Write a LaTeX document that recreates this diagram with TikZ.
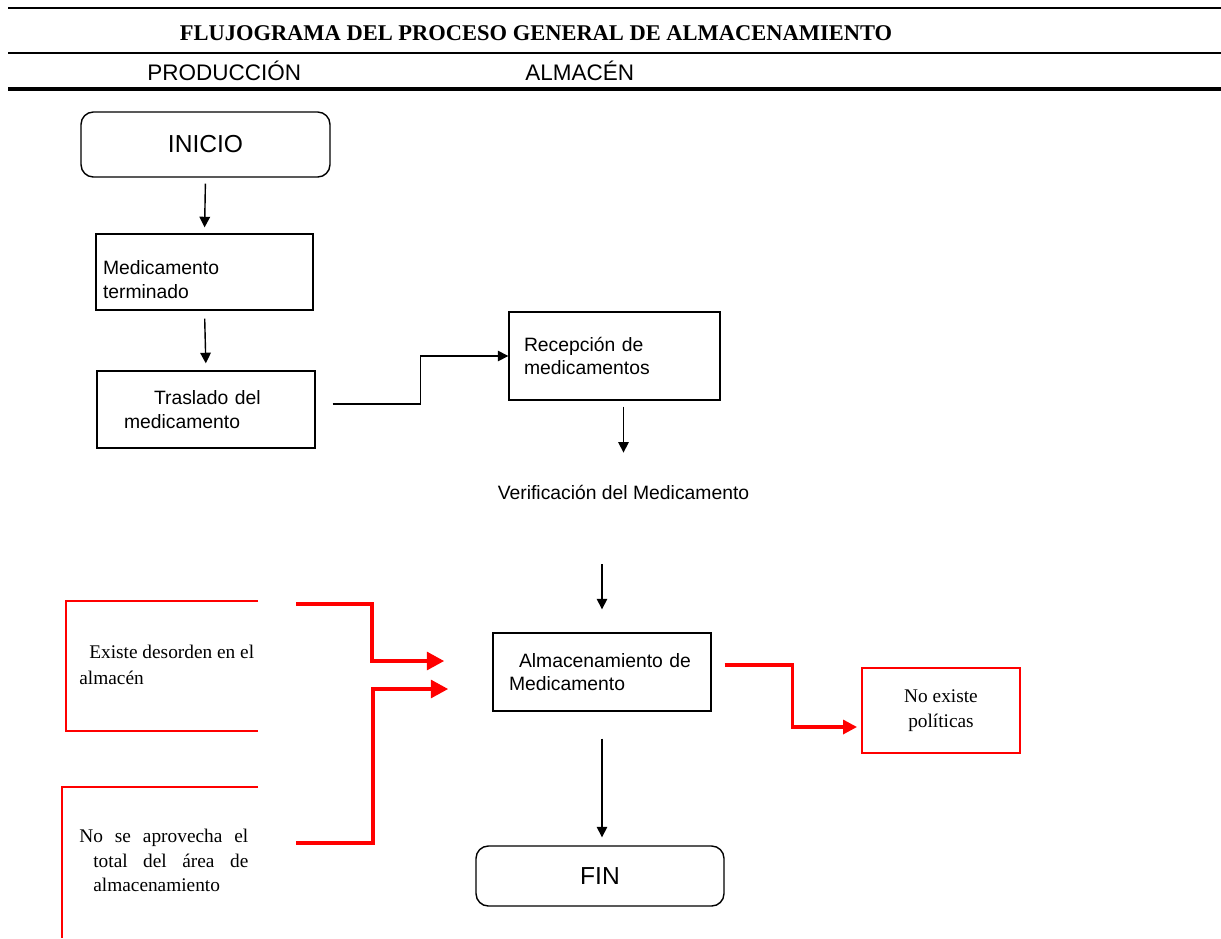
\documentclass[tikz,border=0pt]{standalone}
\usepackage{fontspec}
\setmainfont{Liberation Serif}
\setsansfont{Liberation Sans}
\usetikzlibrary{arrows.meta,calc}
\tolerance=10000
\hyphenpenalty=10000

\begin{document}
\begin{tikzpicture}[x=0.02cm, y=-0.02cm,
  proc/.style={draw, line width=0.8pt, font=\sffamily\fontsize{11}{13.5}\selectfont, align=left},
  term/.style={draw, line width=0.8pt, rounded corners=7pt, font=\sffamily\fontsize{14}{16}\selectfont},
  flow/.style={line width=0.8pt, -{Triangle[length=6pt,width=6pt]}},
  redflow/.style={red, line width=2.6pt, -{Triangle[length=10pt,width=10pt]}},
  redline/.style={red, line width=1.1pt},
  obs/.style={font=\fontsize{11}{14.5}\selectfont, inner sep=0pt, anchor=north west}]
\useasboundingbox (0,0) rectangle (1221,938);
\draw[line width=1.3pt] (8,8) -- (1221,8);
\draw[line width=1.3pt] (8,53) -- (1221,53);
\draw[line width=1.9pt] (8,89) -- (1221,89);
\node[font=\bfseries\fontsize{12.8}{15}\selectfont, anchor=base, inner sep=0pt] (titulo) at (536,40) {FLUJOGRAMA DEL PROCESO GENERAL DE ALMACENAMIENTO};
\node[font=\sffamily\fontsize{12.8}{14}\selectfont, anchor=base west, inner sep=0pt] (produccion) at (147,80) {PRODUCCIÓN};
\node[font=\sffamily\fontsize{12.8}{14}\selectfont, anchor=base west, inner sep=0pt] (almacenhead) at (525,80) {ALMACÉN};
\node[term, minimum width=4.98cm, minimum height=1.3cm] (inicio) at (205.5,144.5) {INICIO};
\node[proc, text width=4.06cm, inner xsep=0.14cm, minimum height=1.52cm] (medterm) at (204.5,272) {\rule{0pt}{17pt}Medicamento\\terminado};
\node[proc, text width=3.28cm, inner xsep=0.54cm, minimum height=1.54cm] (traslado) at (206,409.5) {\hspace*{0.6cm}Traslado del\\medicamento};
\node[proc, text width=3.62cm, inner xsep=0.3cm, minimum height=1.76cm] (recepcion) at (614.5,356) {Recepción de\\medicamentos};
\node[font=\sffamily\fontsize{11}{13.5}\selectfont] (verif) at (623.5,492) {Verificación del Medicamento};
\node[proc, text width=3.72cm, inner xsep=0.32cm, minimum height=1.56cm] (almacen) at (602,672) {\hspace*{0.2cm}Almacenamiento de\\Medicamento};
\node[term, minimum width=4.96cm, minimum height=1.2cm] (fin) at (600,876) {FIN};
\node[draw=red, line width=1.1pt, font=\fontsize{11}{14}\selectfont, align=center, minimum width=3.16cm, minimum height=1.7cm] (politicas) at (941,710.5) {No existe\\políticas};
\draw[redline] (258,601) -| (66,731) -- (258,731);
\draw[redline] (258,787) -| (62,938);
\node[obs, align=left] (desorden) at (79,645) {\hspace*{0.2cm}Existe desorden en el\\almacén};
\node[obs, text width=3.1cm, align=justify, font=\fontsize{11}{13.9}\selectfont] (area) at (93,829) {\hspace*{-0.28cm}No se aprovecha el total del área de almacenamiento};
\coordinate (causa1) at (296,604);
\coordinate (causa2) at (296,843);
\draw[flow, shorten <=0.12cm, shorten >=0.12cm] (inicio.south) -- (medterm.north);
\draw[flow, shorten <=0.16cm, shorten >=0.14cm] (medterm.south) -- (traslado.north);
\draw[flow, shorten <=0.34cm] ([yshift=0.11cm]traslado.east) -- ++(105,0) |- (recepcion.west);
\draw[flow, shorten <=0.12cm, shorten >=0.52cm] (recepcion.south -| verif) -- (verif.north);
\draw[flow, shorten <=1.18cm, shorten >=0.46cm] (verif.south -| almacen) -- (almacen.north);
\draw[flow, shorten <=0.54cm, shorten >=0.16cm] (almacen.south) -- (almacen.south |- fin.north);
\draw[redflow, shorten >=0.96cm] (causa1) -- ++(76,0) |- ([yshift=0.22cm]almacen.west);
\draw[redflow, shorten >=0.88cm] (causa2) -- ++(77,0) |- ([yshift=-0.34cm]almacen.west);
\draw[redflow, line width=1.8pt, -{Triangle[length=8pt,width=8pt]}, shorten <=0.26cm, shorten >=0.08cm] ([yshift=0.14cm]almacen.east) -- ++(81,0) |- ([yshift=-0.33cm]politicas.west);
\end{tikzpicture}
\end{document}
